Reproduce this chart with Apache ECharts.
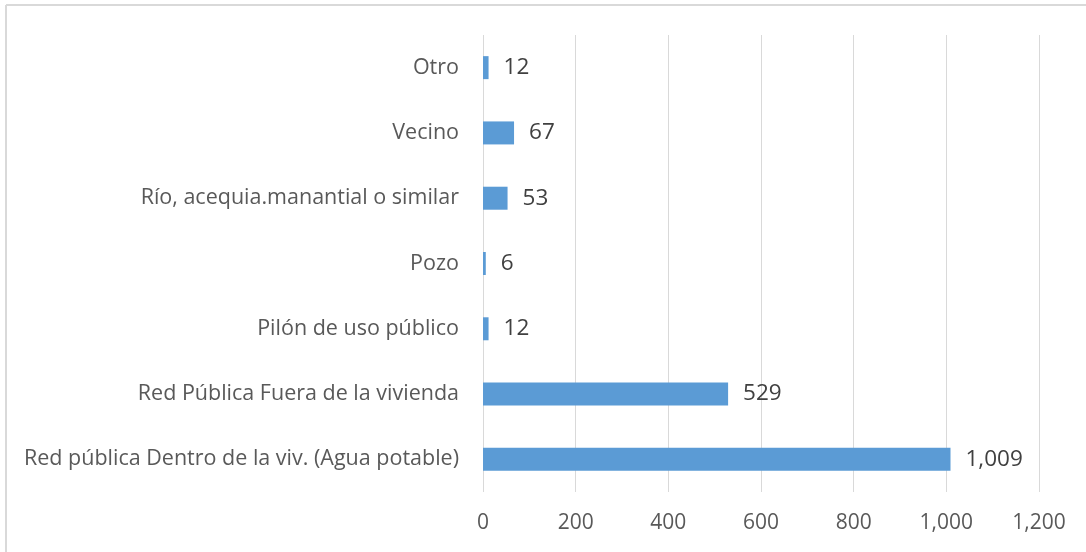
<!DOCTYPE html>
<html>
<head>
<meta charset="utf-8">
<script src="https://cdn.jsdelivr.net/npm/echarts@6/dist/echarts.min.js"></script>
<style>
  html, body { margin: 0; padding: 0; background: #fff; }
  #root { width: 1086px; height: 552px; }
</style>
</head>
<body>
<div id="root"></div>
<script>
// categories listed bottom to top (ECharts category axis starts at the bottom)
var categories = [
  'Red pública Dentro de la viv. (Agua potable)',
  'Red Pública Fuera de la vivienda',
  'Pilón de uso público',
  'Pozo',
  'Río, acequia.manantial o similar',
  'Vecino',
  'Otro'
];
var values = [1009, 529, 12, 6, 53, 67, 12];
var xTicks = [0, 200, 400, 600, 800, 1000, 1200];

var fontFam = '"Open Sans", "Noto Sans", sans-serif';
var fmt = function (v) { return Number(v).toLocaleString('en-US'); };

var chart = echarts.init(document.getElementById('root'));

var option = {
  backgroundColor: '#fff',
  animation: false,
  graphic: [
    // thin frame on the top and left like the original export
    { type: 'line', shape: { x1: 6, y1: 5, x2: 1086, y2: 5 }, style: { stroke: '#d9d9d9', lineWidth: 2 } },
    { type: 'line', shape: { x1: 6, y1: 5, x2: 6, y2: 552 }, style: { stroke: '#d9d9d9', lineWidth: 2 } }
  ],
  grid: { left: 483, right: 47, top: 35, bottom: 60, containLabel: false },
  xAxis: {
    type: 'value',
    min: xTicks[0],
    max: xTicks[xTicks.length - 1],
    interval: 200,
    axisLine: { show: false },
    axisTick: { show: false },
    splitLine: { lineStyle: { color: '#d9d9d9', width: 1 } },
    axisLabel: {
      color: '#595959',
      fontFamily: fontFam,
      fontSize: 21,
      margin: 21,
      formatter: fmt
    }
  },
  yAxis: {
    type: 'category',
    data: categories,
    axisLine: { show: false },
    axisTick: { show: false },
    axisLabel: {
      color: '#595959',
      fontFamily: fontFam,
      fontSize: 21.5,
      margin: 24
    }
  },
  series: [{
    type: 'bar',
    data: values,
    barWidth: 23,
    itemStyle: { color: '#5b9bd5' },
    label: {
      show: true,
      position: 'right',
      distance: 15,
      color: '#404040',
      fontFamily: fontFam,
      fontSize: 22.5,
      formatter: function (p) { return fmt(p.value); }
    }
  }]
};

chart.setOption(option);
window.addEventListener('resize', chart.resize);
</script>
</body>
</html>
